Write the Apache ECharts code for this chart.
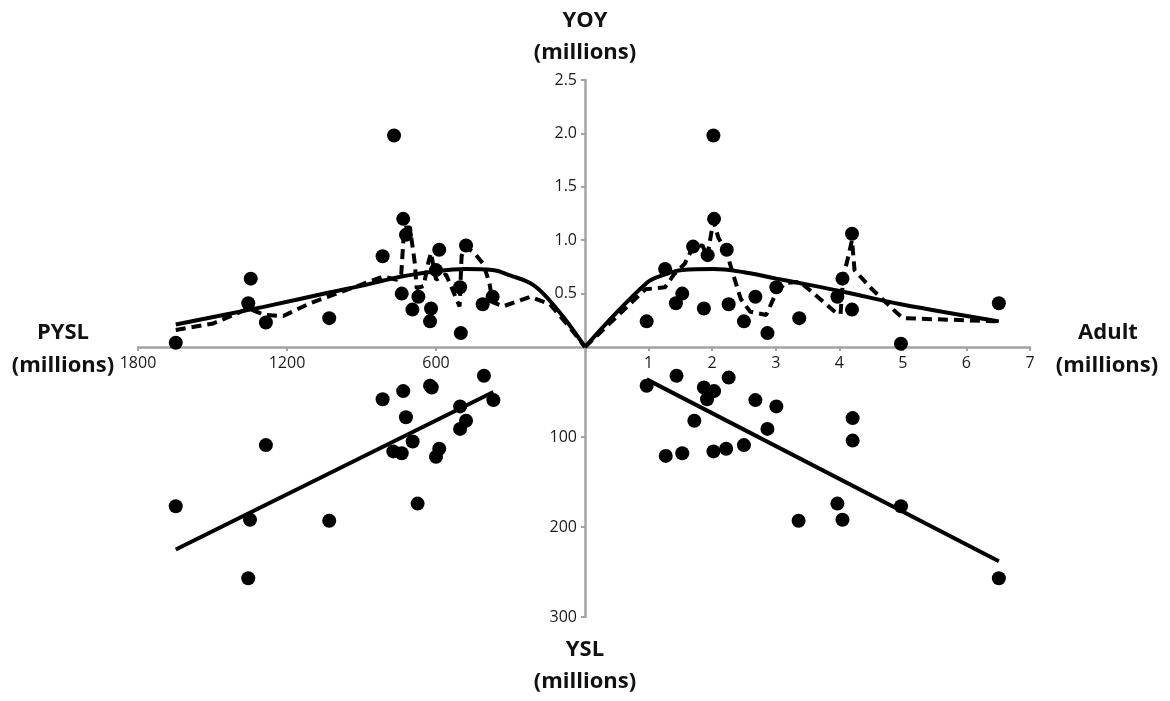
<!DOCTYPE html>
<html>
<head>
<meta charset="utf-8">
<script src="https://cdn.jsdelivr.net/npm/echarts@6/dist/echarts.min.js"></script>
<style>
  html, body { margin: 0; padding: 0; background: #fff; }
  #main { width: 1170px; height: 701px; }
</style>
</head>
<body>
<div id="main"></div>
<script>
var myChart = echarts.init(document.getElementById('main'));

// top right: Adult vs YOY
var adultYoy = [[0.97,0.24],[1.26,0.73],[1.43,0.41],[1.53,0.50],[1.70,0.94],[1.87,0.36],[1.93,0.86],
    [2.02,1.98],[2.03,1.20],[2.23,0.91],[2.26,0.40],[2.50,0.24],[2.68,0.47],[2.87,0.13],[3.01,0.56],
    [3.37,0.27],[3.97,0.47],[4.05,0.64],[4.20,1.06],[4.20,0.35],[4.97,0.03],[6.51,0.41]];
var adultYoyFit = [[0,0],[0.97,0.60],[1.26,0.68],[1.53,0.72],[2.02,0.73],[2.50,0.70],[3.01,0.64],
    [3.37,0.60],[4.05,0.52],[4.97,0.40],[6.51,0.24]];
var adultYoyAvg = [[0,0],[0.95,0.54],[1.26,0.56],[1.40,0.68],[1.57,0.78],[1.70,0.94],[1.85,0.95],
    [1.92,0.84],[2.02,1.18],[2.10,1.02],[2.22,0.90],[2.32,0.70],[2.45,0.45],[2.60,0.33],[2.85,0.30],
    [3.00,0.50],[3.15,0.60],[3.38,0.61],[3.60,0.50],[3.95,0.32],[4.02,0.31],[4.06,0.64],[4.20,1.00],
    [4.24,0.72],[4.50,0.55],[4.85,0.35],[5.00,0.27],[6.51,0.24]];

// top left: PYSL vs YOY
var pyslYoy = [[1648,0.04],[1346,0.64],[1356,0.41],[1285,0.23],[1030,0.27],[815,0.85],[769,1.98],
    [732,1.20],[721,1.05],[738,0.50],[695,0.35],[671,0.47],[620,0.36],[624,0.24],[587,0.91],[600,0.72],
    [479,0.95],[503,0.56],[500,0.13],[412,0.40],[372,0.47]];
var pyslYoyFit = [[1648,0.21],[1349,0.35],[1285,0.38],[1030,0.51],[906,0.57],[815,0.62],[738,0.66],
    [600,0.71],[479,0.73],[372,0.72],[302,0.67],[221,0.60],[168,0.50],[87,0.28],[0,0]];
var pyslYoyAvg = [[1648,0.16],[1497,0.22],[1356,0.36],[1290,0.30],[1215,0.29],[1107,0.41],[906,0.58],
    [812,0.66],[758,0.63],[740,0.68],[728,1.12],[705,1.12],[685,0.78],[678,0.55],[650,0.57],[630,0.80],
    [620,0.88],[600,0.63],[560,0.68],[545,0.60],[505,0.38],[497,0.85],[483,0.94],[445,0.88],[410,0.78],
    [385,0.60],[372,0.42],[330,0.38],[221,0.47],[141,0.40],[60,0.18],[0,0]];

// bottom left: PYSL vs YSL
var pyslYsl = [[1648,177],[1349,192],[1356,257],[1285,109],[1030,193],[815,58],[732,49],[721,78],
    [772,116],[738,118],[694,105],[674,174],[624,43],[617,45],[600,122],[587,113],[503,66],[479,82],
    [503,91],[407,32],[369,59]];
var pyslYslFit = [[1648,225],[369,50]];

// bottom right: Adult vs YSL
var adultYsl = [[0.97,43],[1.44,32],[2.26,34],[1.87,45],[2.03,49],[1.92,58],[2.68,59],[3.01,66],
    [1.72,82],[2.87,91],[4.21,79],[4.21,104],[1.27,121],[1.53,118],[2.02,116],[2.22,113],[2.50,109],
    [3.97,174],[4.05,192],[3.36,193],[4.97,177],[6.51,257]];
var adultYslFit = [[0.97,36],[6.51,238]];

var axisGray = '#a3a3a3';
var font = '"Open Sans", "Noto Sans", sans-serif';

function shownAxis(extra, fmt) {
    var a = {
        type: 'value',
        splitLine: { show: false },
        axisLine: { show: true, lineStyle: { color: axisGray, width: 2.5 } },
        axisTick: { show: true, length: 4, lineStyle: { color: axisGray, width: 2 } },
        axisLabel: { showMinLabel: false, color: '#1a1a1a', fontSize: 16, fontFamily: font, margin: 8,
            formatter: fmt }
    };
    for (var k in extra) a[k] = extra[k];
    return a;
}
function hiddenAxis(extra) {
    var a = { type: 'value', show: false, splitLine: { show: false } };
    for (var k in extra) a[k] = extra[k];
    return a;
}
function plain(v) { return String(v); }

function scatter(data, xi, yi) {
    return { type: 'scatter', data: data, xAxisIndex: xi, yAxisIndex: yi,
        symbolSize: 14, itemStyle: { color: '#000', opacity: 1 }, z: 3 };
}
function line(data, xi, yi, dashed, smooth) {
    return { type: 'line', data: data, xAxisIndex: xi, yAxisIndex: yi, showSymbol: false,
        symbol: 'none', smooth: smooth,
        lineStyle: { color: '#000', width: 4, opacity: 1, type: dashed ? [10, 6] : 'solid' }, z: 4 };
}

function label(text, x, y) {
    return { type: 'text', x: x, y: y,
        style: { text: text, align: 'center', verticalAlign: 'middle', fill: '#111',
            fontSize: 22, fontWeight: 'bold', fontFamily: font } };
}

option = {
    animation: false,
    backgroundColor: '#fff',
    grid: [
        { left: 138, top: 80, width: 447, height: 267, outerBoundsMode: 'none' },  // top left
        { left: 585, top: 80, width: 445, height: 267, outerBoundsMode: 'none' },  // top right
        { left: 138, top: 347, width: 447, height: 270, outerBoundsMode: 'none' }, // bottom left
        { left: 585, top: 347, width: 445, height: 270, outerBoundsMode: 'none' }  // bottom right
    ],
    xAxis: [
        shownAxis({ gridIndex: 0, min: 0, max: 1800, interval: 600, inverse: true, position: 'bottom' }, plain),
        shownAxis({ gridIndex: 1, min: 0, max: 7, interval: 1, position: 'bottom' }, plain),
        hiddenAxis({ gridIndex: 2, min: 0, max: 1800, inverse: true }),
        hiddenAxis({ gridIndex: 3, min: 0, max: 7 })
    ],
    yAxis: [
        hiddenAxis({ gridIndex: 0, min: 0, max: 2.5 }),
        shownAxis({ gridIndex: 1, min: 0, max: 2.5, interval: 0.5, position: 'left' },
            function (v) { return v.toFixed(1); }),
        hiddenAxis({ gridIndex: 2, min: 0, max: 300, inverse: true }),
        shownAxis({ gridIndex: 3, min: 0, max: 300, interval: 100, inverse: true, position: 'left' }, plain)
    ],
    graphic: [
        label('YOY', 585, 21), label('(millions)', 585, 53),
        label('PYSL', 63, 333), label('(millions)', 63, 366),
        label('Adult', 1108, 333), label('(millions)', 1107, 366),
        label('YSL', 585, 650), label('(millions)', 585, 682)
    ],
    series: [
        scatter(pyslYoy, 0, 0),
        line(pyslYoyFit, 0, 0, false, 0.4),
        line(pyslYoyAvg, 0, 0, true, false),
        scatter(adultYoy, 1, 1),
        line(adultYoyFit, 1, 1, false, 0.4),
        line(adultYoyAvg, 1, 1, true, false),
        scatter(pyslYsl, 2, 2),
        line(pyslYslFit, 2, 2, false, false),
        scatter(adultYsl, 3, 3),
        line(adultYslFit, 3, 3, false, false)
    ]
};
myChart.setOption(option);
</script>
</body>
</html>
